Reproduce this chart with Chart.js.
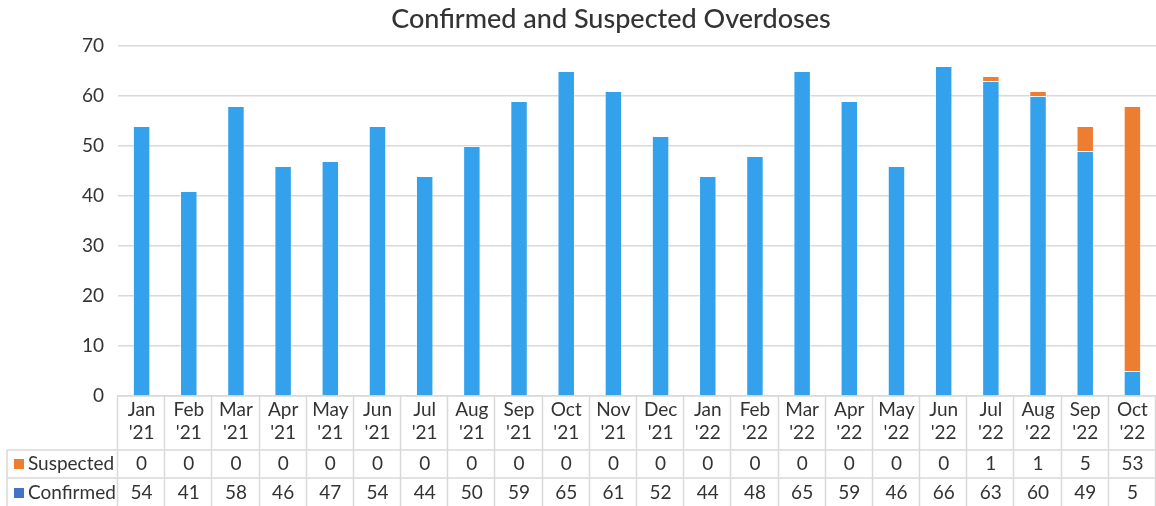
<!DOCTYPE html>
<html>
<head>
<meta charset="utf-8">
<script src="https://cdn.jsdelivr.net/npm/chart.js@4/dist/chart.umd.min.js"></script>
<style>
  html, body { margin: 0; padding: 0; background: #fff; }
  #wrap { width: 1156px; height: 506px; }
</style>
</head>
<body>
<div id="wrap"><canvas id="myChart" width="1156" height="506"></canvas></div>
<script>
// Months (two-line labels)
const months = [
  ["Jan", "'21"], ["Feb", "'21"], ["Mar", "'21"], ["Apr", "'21"], ["May", "'21"], ["Jun", "'21"],
  ["Jul", "'21"], ["Aug", "'21"], ["Sep", "'21"], ["Oct", "'21"], ["Nov", "'21"], ["Dec", "'21"],
  ["Jan", "'22"], ["Feb", "'22"], ["Mar", "'22"], ["Apr", "'22"], ["May", "'22"], ["Jun", "'22"],
  ["Jul", "'22"], ["Aug", "'22"], ["Sep", "'22"], ["Oct", "'22"]
];

const confirmed = [54, 41, 58, 46, 47, 54, 44, 50, 59, 65, 61, 52, 44, 48, 65, 59, 46, 66, 63, 60, 49, 5];
const suspected = [0, 0, 0, 0, 0, 0, 0, 0, 0, 0, 0, 0, 0, 0, 0, 0, 0, 0, 1, 1, 5, 53];

const yTicks = [0, 10, 20, 30, 40, 50, 60, 70];

const chartTitle = "Confirmed and Suspected Overdoses";

const font = "Lato, 'Open Sans', sans-serif";
const textColor = "#333333";
const lineColor = "#d9d9d9";

// draws title and the data table under the axis
const tablePlugin = {
  id: "dataTable",
  afterDraw(chart) {
    const c = chart.ctx;
    const x = chart.scales.x;
    const area = chart.chartArea;
    const axisBottom = x.bottom;
    const row1 = axisBottom + 28;
    const leftEdge = 7;

    c.save();
    // title
    c.fillStyle = textColor;
    c.font = "500 27px " + font;
    c.textAlign = "center";
    c.textBaseline = "middle";
    c.fillText(chartTitle, 611, 19);

    // table lines
    c.strokeStyle = lineColor;
    c.lineWidth = 1.5;
    c.beginPath();
    const step = (area.right - area.left) / months.length;
    for (let i = 0; i <= months.length; i++) {
      const px = Math.round(area.left + i * step) - 0.5;
      c.moveTo(px, area.bottom);
      c.lineTo(px, chart.height);
    }
    c.moveTo(leftEdge, axisBottom);
    c.lineTo(area.right, axisBottom);
    c.moveTo(leftEdge, row1);
    c.lineTo(area.right, row1);
    c.moveTo(leftEdge, axisBottom);
    c.lineTo(leftEdge, chart.height);
    c.stroke();

    // row values
    c.font = "19px " + font;
    c.fillStyle = textColor;
    c.textAlign = "center";
    months.forEach((m, i) => {
      const cx = x.getPixelForValue(i);
      c.fillText(String(suspected[i]), cx, axisBottom + 14);
      c.fillText(String(confirmed[i]), cx, row1 + 15);
    });

    // legend keys
    const rows = [
      { label: "Suspected", color: "#ED7D31", y: axisBottom + 14 },
      { label: "Confirmed", color: "#4472C4", y: row1 + 15 }
    ];
    c.textAlign = "left";
    rows.forEach((r) => {
      c.fillStyle = r.color;
      c.fillRect(14, r.y - 5, 10, 10);
      c.fillStyle = textColor;
      c.fillText(r.label, 28, r.y);
    });
    c.restore();
  }
};

const ctx = document.getElementById("myChart");

new Chart(ctx, {
  type: "bar",
  data: {
    labels: months,
    datasets: [
      {
        label: "Confirmed",
        data: confirmed,
        backgroundColor: "#33A1EC",
        borderColor: "rgba(255,255,255,0.45)",
        borderWidth: 1,
        borderSkipped: "bottom",
        categoryPercentage: 1,
        barPercentage: 0.37
      },
      {
        label: "Suspected",
        data: suspected,
        backgroundColor: "#ED7D31",
        borderColor: "rgba(255,255,255,0.45)",
        borderWidth: 1,
        borderSkipped: "bottom",
        categoryPercentage: 1,
        barPercentage: 0.37
      }
    ]
  },
  options: {
    responsive: false,
    animation: false,
    layout: { padding: { top: 46, right: 0, bottom: 56, left: 0 } },
    scales: {
      x: {
        stacked: true,
        grid: { display: false, drawTicks: false },
        border: { display: true, color: lineColor, width: 1.5 },
        ticks: {
          color: textColor,
          font: { family: font, size: 19, lineHeight: 1.22 },
          padding: 2,
          maxRotation: 0,
          autoSkip: false
        },
        afterFit: (scale) => { scale.height = 54; }
      },
      y: {
        stacked: true,
        min: 0,
        max: 70,
        afterBuildTicks: (scale) => { scale.ticks = yTicks.map((v) => ({ value: v })); },
        grid: { color: lineColor, lineWidth: 1.5, drawTicks: false },
        border: { display: false },
        ticks: {
          color: textColor,
          font: { family: font, size: 19 },
          padding: 14
        },
        afterFit: (scale) => { scale.width = 118; }
      }
    },
    plugins: {
      legend: { display: false },
      title: { display: false },
      tooltip: { enabled: false }
    }
  },
  plugins: [tablePlugin]
});
</script>
</body>
</html>
